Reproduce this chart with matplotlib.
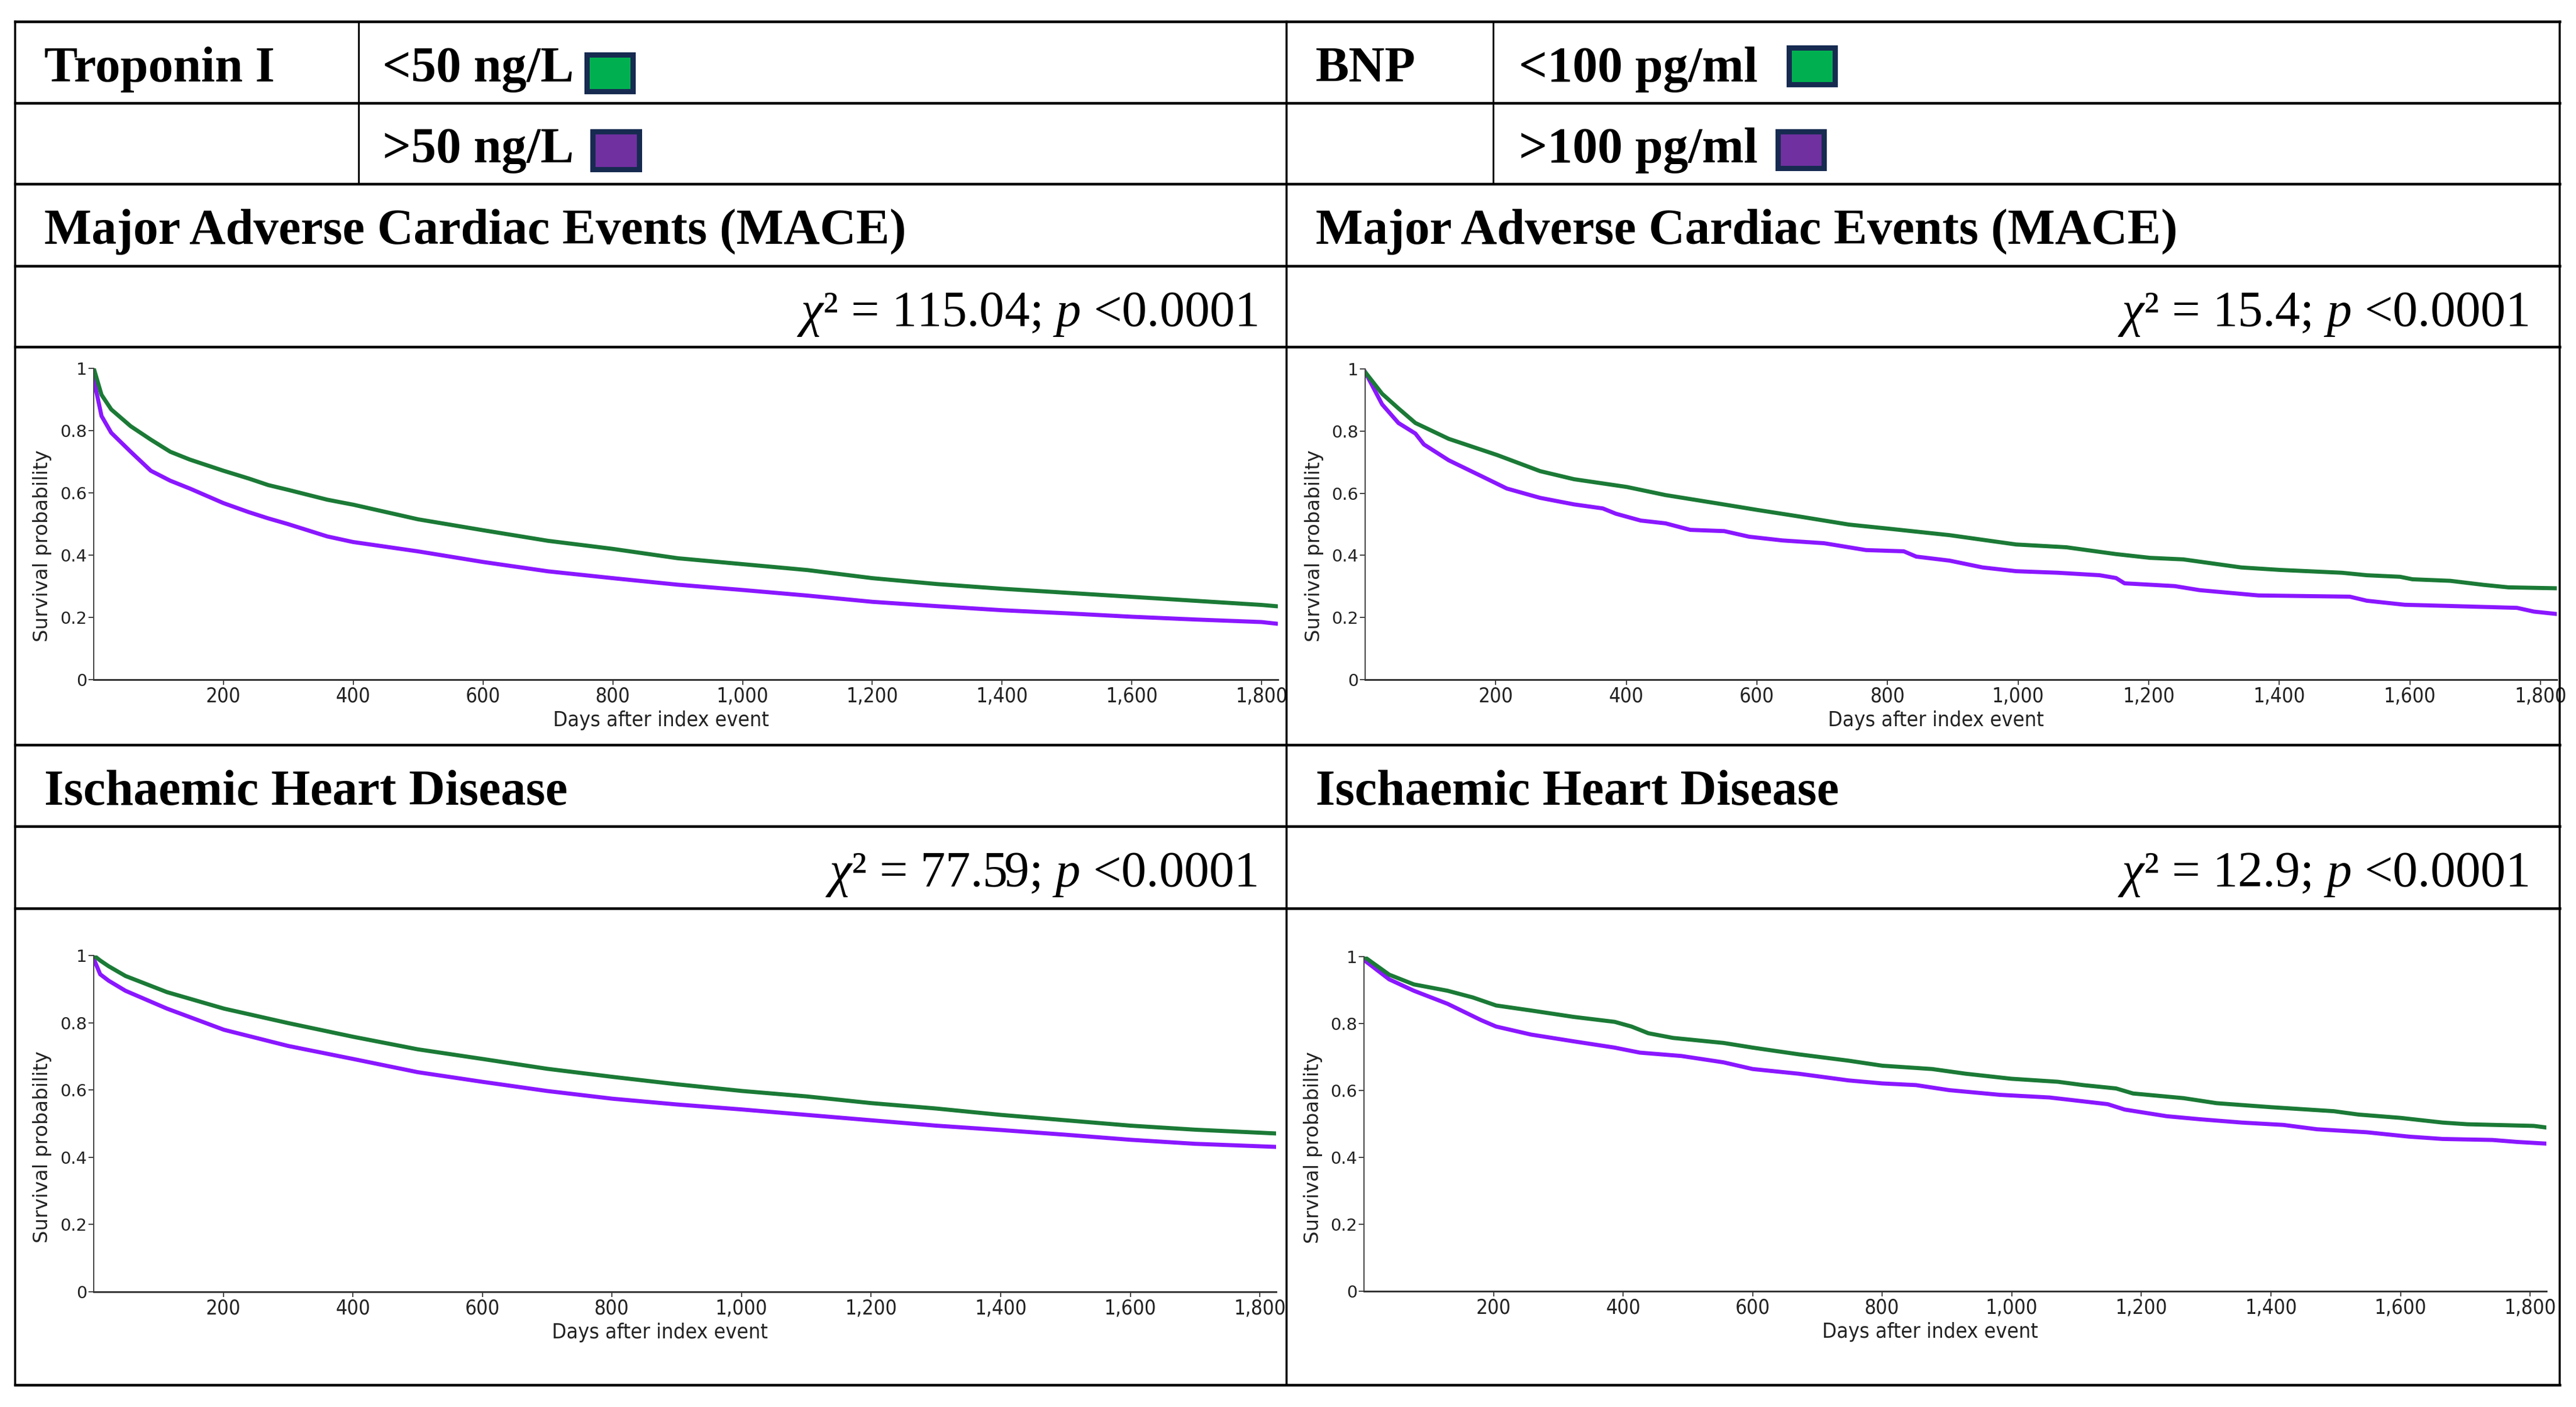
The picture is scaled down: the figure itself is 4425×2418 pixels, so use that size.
import matplotlib
matplotlib.use("Agg")
import matplotlib.pyplot as plt
from matplotlib import font_manager
from matplotlib.font_manager import FontProperties
from matplotlib.lines import Line2D
from matplotlib.patches import Rectangle
from matplotlib.ticker import FuncFormatter

# ---- data (days, survival probability) ----
tn_mace_days = [0, 12, 27, 57, 88, 118, 148, 200, 239, 269, 299, 360, 400, 500, 600, 700,
                800, 900, 1000, 1100, 1200, 1300, 1400, 1500, 1600, 1700, 1800, 1822]
tn_mace_low = [1.0, 0.915, 0.868, 0.814, 0.771, 0.732, 0.707, 0.671, 0.646, 0.625, 0.61, 0.578,
               0.562, 0.515, 0.48, 0.446, 0.42, 0.39, 0.371, 0.352, 0.326, 0.307, 0.292, 0.279,
               0.266, 0.253, 0.24, 0.236]
tn_mace_high = [0.965, 0.847, 0.793, 0.732, 0.671, 0.639, 0.614, 0.567, 0.538, 0.518, 0.5, 0.46,
                0.442, 0.412, 0.378, 0.348, 0.326, 0.305, 0.288, 0.27, 0.25, 0.236, 0.223, 0.213,
                0.202, 0.193, 0.185, 0.18]

bnp_mace_low_days = [0, 26, 51, 77, 128, 202, 268, 320, 401, 460, 537, 601, 665, 741, 801, 895,
                     997, 1074, 1150, 1202, 1253, 1342, 1402, 1496, 1534, 1585, 1604, 1662, 1713,
                     1751, 1826]
bnp_mace_low = [0.99, 0.92, 0.873, 0.826, 0.775, 0.723, 0.671, 0.645, 0.62, 0.594, 0.568, 0.546,
                0.525, 0.499, 0.486, 0.465, 0.435, 0.426, 0.404, 0.392, 0.387, 0.361, 0.353,
                0.344, 0.336, 0.331, 0.323, 0.318, 0.305, 0.297, 0.294]
bnp_mace_high_days = [0, 26, 51, 77, 90, 128, 179, 217, 268, 320, 364, 384, 422, 460, 498, 550,
                      588, 639, 703, 767, 825, 844, 895, 946, 997, 1061, 1125, 1150, 1163, 1240,
                      1278, 1368, 1508, 1534, 1592, 1662, 1764, 1790, 1826]
bnp_mace_high = [0.99, 0.886, 0.826, 0.792, 0.757, 0.706, 0.654, 0.615, 0.585, 0.564, 0.551,
                 0.534, 0.512, 0.503, 0.482, 0.478, 0.46, 0.448, 0.439, 0.417, 0.413, 0.396,
                 0.383, 0.361, 0.349, 0.344, 0.336, 0.327, 0.31, 0.301, 0.288, 0.271, 0.267,
                 0.254, 0.241, 0.237, 0.231, 0.219, 0.211]

tn_ihd_days = [0, 10, 23, 49, 113, 201, 300, 401, 500, 601, 700, 801, 900, 1001, 1100, 1200,
               1300, 1400, 1500, 1600, 1700, 1822]
tn_ihd_low = [1.0, 0.985, 0.968, 0.939, 0.891, 0.842, 0.799, 0.758, 0.721, 0.692, 0.663, 0.639,
              0.617, 0.597, 0.581, 0.561, 0.545, 0.526, 0.51, 0.494, 0.482, 0.471]
tn_ihd_high = [0.99, 0.944, 0.925, 0.895, 0.842, 0.779, 0.731, 0.692, 0.653, 0.624, 0.597, 0.574,
               0.557, 0.542, 0.526, 0.51, 0.494, 0.481, 0.467, 0.452, 0.44, 0.431]

bnp_ihd_low_days = [0, 39, 77, 129, 168, 204, 258, 323, 387, 413, 439, 477, 555, 600, 671, 748,
                    800, 877, 929, 999, 1071, 1110, 1161, 1187, 1265, 1316, 1400, 1497, 1535, 1600,
                    1665, 1703, 1806, 1826]
bnp_ihd_low = [1.0, 0.946, 0.917, 0.898, 0.878, 0.854, 0.839, 0.82, 0.805, 0.791, 0.771, 0.757,
               0.742, 0.728, 0.708, 0.689, 0.674, 0.664, 0.65, 0.635, 0.626, 0.616, 0.606, 0.591,
               0.577, 0.562, 0.55, 0.538, 0.528, 0.518, 0.504, 0.499, 0.494, 0.489]
bnp_ihd_high_days = [0, 39, 77, 129, 181, 204, 258, 323, 387, 426, 490, 555, 600, 671, 748, 800,
                     852, 903, 981, 1058, 1148, 1174, 1239, 1290, 1355, 1419, 1471, 1548, 1613,
                     1665, 1742, 1781, 1826]
bnp_ihd_high = [0.99, 0.932, 0.898, 0.859, 0.81, 0.791, 0.767, 0.747, 0.728, 0.713, 0.703, 0.684,
                0.664, 0.65, 0.63, 0.621, 0.616, 0.601, 0.587, 0.579, 0.559, 0.543, 0.523, 0.514,
                0.504, 0.497, 0.484, 0.475, 0.462, 0.455, 0.452, 0.446, 0.441]

x_ticks = [200, 400, 600, 800, 1000, 1200, 1400, 1600, 1800]
y_ticks = [0, 0.2, 0.4, 0.6, 0.8, 1]
y_tick_labels = ["0", "0.2", "0.4", "0.6", "0.8", "1"]

chi_texts = [r"$\chi$² = 115.04; $p$ <0.0001", r"$\chi$² = 15.4; $p$ <0.0001",
             r"$\chi$² = 77.59; $p$ <0.0001", r"$\chi$² = 12.9; $p$ <0.0001"]

GREEN_LINE = "#1b7a36"
PURPLE_LINE = "#8a17ff"
GREEN_BOX = "#00b050"
PURPLE_BOX = "#7030a0"
BOX_EDGE = "#172b51"

W, H = 4425, 2418
DPI = 100
PT = 72 / DPI  # points per pixel

SERIF = "Liberation Serif"


def narrow_font():
    # any condensed / narrow sans face installed, else DejaVu Sans
    best = None
    for f in font_manager.fontManager.ttflist:
        n = f.name
        if "Serif" in n or "Mono" in n:
            continue
        st = f.stretch
        narrow = ("Narrow" in n or "Condensed" in n
                  or (isinstance(st, int) and st < 500)
                  or st in ("condensed", "semi-condensed", "extra-condensed"))
        if not narrow or f.style != "normal":
            continue
        w = f.weight if isinstance(f.weight, int) else 400
        if w != 400:
            continue
        best = f.fname
        if "Liberation" in n or "DejaVu" in n:
            break
    if best:
        return FontProperties(fname=best)
    return FontProperties(family="DejaVu Sans")


NARROW = narrow_font()

plt.rcParams["mathtext.fontset"] = "custom"
plt.rcParams["mathtext.rm"] = SERIF
plt.rcParams["mathtext.it"] = SERIF + ":italic"


def fx(x):
    return x / W


def fy(y):
    return 1 - y / H


fig = plt.figure(figsize=(W / DPI, H / DPI), dpi=DPI)
fig.patch.set_facecolor("white")

# ---- table grid ----
L, M, R = 26, 2210, 4397
rows = [37, 177, 316, 457, 596, 1280, 1420, 1561, 2380]
for y in rows:
    fig.add_artist(Line2D([fx(L), fx(R)], [fy(y), fy(y)], color="black", lw=4.5 * PT,
                          solid_capstyle="projecting"))
for x in (L, M, R):
    fig.add_artist(Line2D([fx(x), fx(x)], [fy(rows[0]), fy(rows[-1])], color="black",
                          lw=3.5 * PT, solid_capstyle="projecting"))
for x in (616, 2565):
    fig.add_artist(Line2D([fx(x), fx(x)], [fy(rows[0]), fy(rows[2])], color="black", lw=3.0 * PT))

HEAD = 62
hdr = dict(fontsize=HEAD, fontweight="bold", family=SERIF, va="baseline", ha="left")
fig.text(fx(76), fy(140), "Troponin I", **hdr)
fig.text(fx(657), fy(140), "<50 ng/L", **hdr)
fig.text(fx(657), fy(279), ">50 ng/L", **hdr)
fig.text(fx(2260), fy(140), "BNP", **hdr)
fig.text(fx(2609), fy(140), "<100 pg/ml", **hdr)
fig.text(fx(2609), fy(279), ">100 pg/ml", **hdr)
for x in (76, 2260):
    fig.text(fx(x), fy(419), "Major Adverse Cardiac Events (MACE)", **hdr)
    fig.text(fx(x), fy(1383), "Ischaemic Heart Disease", **hdr)

chi_pos = [(2160, 560), (4343, 560), (2160, 1523), (4343, 1523)]
for (x, y), s in zip(chi_pos, chi_texts):
    fig.text(fx(x), fy(y), s, fontsize=HEAD, family=SERIF, ha="right", va="baseline")

# legend boxes (outer pixel extents)
boxes = [((1003, 89, 1091, 161), GREEN_BOX), ((1013, 222, 1102, 295), PURPLE_BOX),
         ((3068, 77, 3156, 149), GREEN_BOX), ((3049, 221, 3137, 293), PURPLE_BOX)]
bw = 9
for (x0, y0, x1, y1), c in boxes:
    fig.add_artist(Rectangle((fx(x0 + bw / 2), fy(y1 - bw / 2)), (x1 - x0 - bw) / W,
                             (y1 - y0 - bw) / H, facecolor=c, edgecolor=BOX_EDGE,
                             lw=bw * PT, transform=fig.transFigure))

# ---- survival panels ----
panels = [
    ((161, 633, 2195, 1168), (tn_mace_days, tn_mace_low), (tn_mace_days, tn_mace_high)),
    ((2345, 634, 4392, 1168), (bnp_mace_low_days, bnp_mace_low), (bnp_mace_high_days, bnp_mace_high)),
    ((161, 1642, 2192, 2220), (tn_ihd_days, tn_ihd_low), (tn_ihd_days, tn_ihd_high)),
    ((2343, 1644, 4374, 2219), (bnp_ihd_low_days, bnp_ihd_low), (bnp_ihd_high_days, bnp_ihd_high)),
]

for (x0, y0, x1, y1), low, high in panels:
    ax = fig.add_axes([fx(x0), fy(y1), (x1 - x0) / W, (y1 - y0) / H])
    ax.plot(high[0], high[1], color=PURPLE_LINE, lw=7 * PT, solid_joinstyle="round")
    ax.plot(low[0], low[1], color=GREEN_LINE, lw=7 * PT, solid_joinstyle="round")
    ax.set_xlim(0, 1825)
    ax.set_ylim(0, 1)
    for side in ("top", "right"):
        ax.spines[side].set_visible(False)
    ax.spines["left"].set_color("#444444")
    ax.spines["left"].set_linewidth(2 * PT)
    ax.spines["bottom"].set_color("#333333")
    ax.spines["bottom"].set_linewidth(3 * PT)
    ax.set_xticks(x_ticks)
    ax.xaxis.set_major_formatter(FuncFormatter(lambda v, p: f"{int(v):,}"))
    ax.set_yticks(y_ticks)
    ax.set_yticklabels(y_tick_labels)
    ax.tick_params(axis="both", direction="out", length=9 * PT, width=2 * PT, color="#444444",
                   pad=2)
    for t in ax.get_xticklabels():
        t.set_fontproperties(NARROW)
        t.set_fontsize(25)
        t.set_color("#222222")
    for t in ax.get_yticklabels():
        t.set_fontfamily("DejaVu Sans")
        t.set_fontsize(21)
        t.set_color("#222222")
    ax.set_xlabel("Days after index event", fontproperties=NARROW, color="#222222", va="center")
    ax.xaxis.label.set_fontsize(26)
    ax.xaxis.set_label_coords(0.479, -70 / (y1 - y0))
    ax.set_ylabel("Survival probability", family="DejaVu Sans", fontsize=24.5, color="#222222",
                  va="center")
    # sits just left of the tick labels
    ax.yaxis.set_label_coords(-88 / (x1 - x0), 0.43)

fig.savefig("out.png", dpi=DPI, facecolor="white")
